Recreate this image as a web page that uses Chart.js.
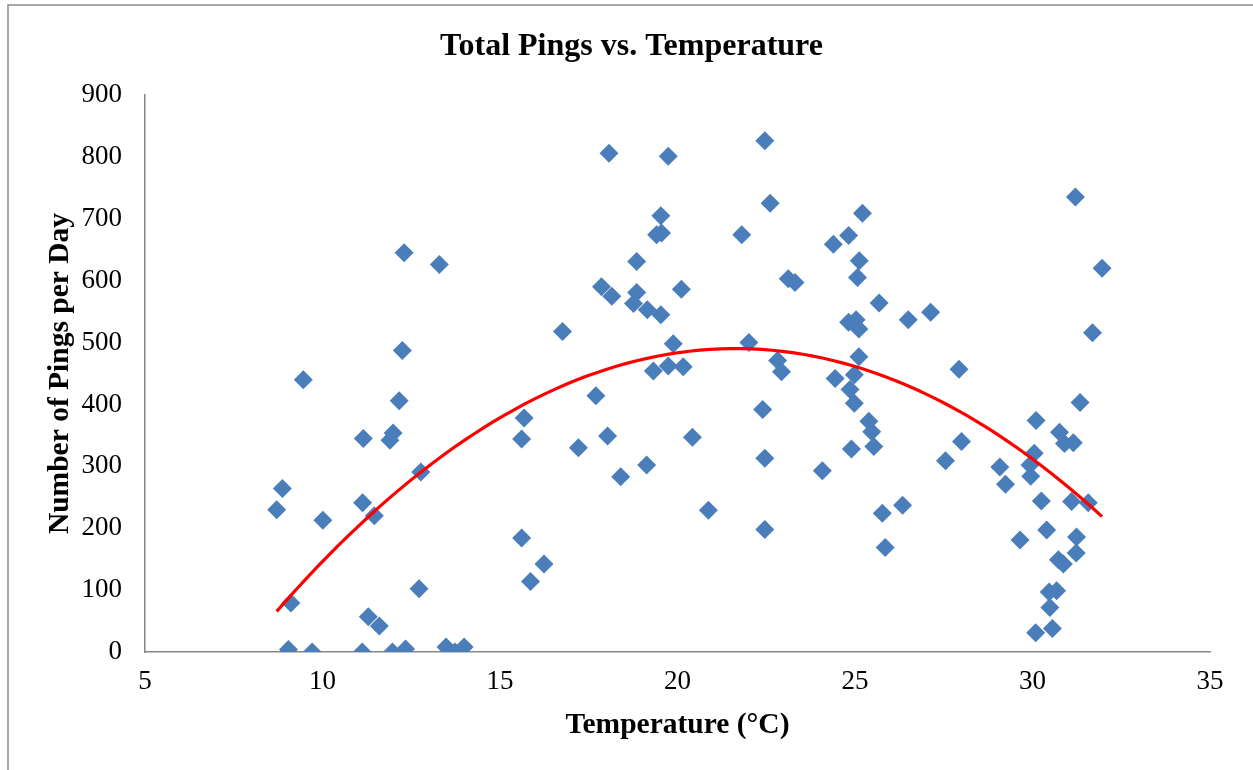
<!DOCTYPE html>
<html>
<head>
<meta charset="utf-8">
<script src="https://cdn.jsdelivr.net/npm/chart.js@4/dist/chart.umd.min.js"></script>
<style>
  html, body { margin: 0; padding: 0; background: #fff; }
  #wrap { width: 1253px; height: 770px; position: relative; }
</style>
</head>
<body>
<div id="wrap"><canvas id="pings"></canvas></div>
<script>
// temperature (°C) and pings per day
const temps = [
  8.71, 8.87, 9.04, 9.11, 9.46, 9.71, 10.01, 11.12, 11.15, 11.13,
  11.29, 11.46, 11.60, 11.90, 11.99, 11.97, 12.16, 12.25, 12.30, 12.34,
  12.72, 12.77, 13.29, 13.48, 13.73, 13.99, 15.61, 15.61, 15.68, 15.86,
  16.24, 16.76, 17.21, 17.70, 17.86, 18.03, 18.07, 18.15, 18.40, 18.76,
  18.85, 18.85, 19.13, 19.15, 19.32, 19.41, 19.53, 19.53, 19.55, 19.74,
  19.74, 19.88, 20.11, 20.16, 20.42, 20.87, 21.81, 22.01, 22.40, 22.46,
  22.46, 22.46, 22.61, 22.82, 22.93, 23.12, 23.31, 24.08, 24.39, 24.44,
  24.82, 24.82, 24.86, 24.90, 24.98, 24.98, 25.03, 25.07, 25.11, 25.11,
  25.12, 25.21, 25.39, 25.47, 25.53, 25.68, 25.77, 25.85, 26.34, 26.50,
  27.13, 27.55, 27.93, 28.00, 29.08, 29.24, 29.65, 29.93, 29.95, 30.05,
  30.09, 30.10, 30.25, 30.40, 30.47, 30.49, 30.56, 30.68, 30.73, 30.76,
  30.87, 30.90, 31.10, 31.15, 31.21, 31.23, 31.24, 31.34, 31.57, 31.69,
  31.96
];
const pings = [
  230, 264, 4, 79, 440, 0, 213, 0, 345, 241,
  57, 220, 42, 342, 354, 0, 406, 487, 645, 5,
  102, 291, 626, 8, 0, 8, 184, 344, 378, 114,
  142, 518, 330, 414, 590, 349, 806, 575, 283, 563,
  581, 631, 302, 553, 454, 674, 545, 705, 677, 801,
  462, 498, 586, 461, 347, 229, 674, 500, 392, 313,
  198, 826, 725, 471, 453, 603, 597, 293, 659, 442,
  673, 533, 424, 328, 448, 402, 537, 605, 522, 477,
  632, 709, 373, 356, 332, 564, 224, 169, 237, 537,
  549, 309, 457, 340, 299, 271, 181, 302, 284, 321,
  31, 374, 244, 197, 97, 72, 38, 99, 149, 355,
  142, 337, 243, 338, 735, 160, 186, 403, 241, 516,
  620
];
const xTicks = [5, 10, 15, 20, 25, 30, 35];
const yTicks = [0, 100, 200, 300, 400, 500, 600, 700, 800, 900];

const SERIF = "'Liberation Serif', 'Times New Roman', serif";

// order-2 least squares fit, like the Excel polynomial trendline
function polyFit2(xs, ys) {
  let s = [0, 0, 0, 0, 0], t = [0, 0, 0];
  for (let i = 0; i < xs.length; i++) {
    let p = 1;
    for (let k = 0; k < 5; k++) { s[k] += p; if (k < 3) t[k] += p * ys[i]; p *= xs[i]; }
  }
  const m = [[s[0], s[1], s[2], t[0]], [s[1], s[2], s[3], t[1]], [s[2], s[3], s[4], t[2]]];
  for (let c = 0; c < 3; c++) {
    for (let r = c + 1; r < 3; r++) {
      const f = m[r][c] / m[c][c];
      for (let k = c; k < 4; k++) m[r][k] -= f * m[c][k];
    }
  }
  const b = [0, 0, 0];
  for (let r = 2; r >= 0; r--) {
    let v = m[r][3];
    for (let k = r + 1; k < 3; k++) v -= m[r][k] * b[k];
    b[r] = v / m[r][r];
  }
  return b;
}

const coef = polyFit2(temps, pings);
const xMin = Math.min(...temps), xMax = Math.max(...temps);
const trend = [];
for (let i = 0; i <= 80; i++) {
  const x = xMin + (xMax - xMin) * i / 80;
  trend.push({ x: x, y: coef[0] + coef[1] * x + coef[2] * x * x });
}

// grey frame round the chart (only top and left show in the picture)
const framePlugin = {
  id: "frame",
  beforeDraw: (chart) => {
    const { ctx, width, height } = chart;
    ctx.save();
    ctx.fillStyle = "#ffffff";
    ctx.fillRect(0, 0, width, height);
    ctx.strokeStyle = "#8c8c8c";
    ctx.lineWidth = 1.5;
    ctx.beginPath();
    ctx.moveTo(8, height);
    ctx.lineTo(8, 5);
    ctx.lineTo(width, 5);
    ctx.stroke();
    ctx.restore();
  },
};

new Chart(document.getElementById("pings"), {
  type: "scatter",
  data: {
    datasets: [
      {
        label: "Pings",
        data: temps.map((t, i) => ({ x: t, y: pings[i] })),
        pointStyle: "rectRot",
        pointRadius: 9.5,
        pointBorderWidth: 0,
        backgroundColor: "#4a7ebb",
        borderColor: "#4a7ebb",
        order: 2,
      },
      {
        type: "line",
        label: "Trend",
        data: trend,
        borderColor: "#ff0000",
        borderWidth: 3.2,
        pointRadius: 0,
        tension: 0,
        fill: false,
        order: 1,
      },
    ],
  },
  plugins: [framePlugin],
  options: {
    responsive: true,
    maintainAspectRatio: false,
    animation: false,
    layout: { padding: { top: 0, right: 0, bottom: 0, left: 10 } },
    plugins: {
      legend: { display: false },
      tooltip: { enabled: false },
      title: {
        display: true,
        text: "Total Pings vs. Temperature",
        color: "#000",
        font: { family: SERIF, size: 32, weight: "bold" },
        padding: { top: 27.4, bottom: 29.2 },
      },
    },
    scales: {
      x: {
        type: "linear",
        min: 5,
        max: 35,
        afterBuildTicks: (s) => { s.ticks = xTicks.map((v) => ({ value: v })); },
        afterFit: (s) => { s.height = 118; },
        grid: { display: false, drawTicks: false },
        border: { display: true, color: "#868686", width: 1.5 },
        ticks: { color: "#000", padding: 14, font: { family: SERIF, size: 27 } },
        title: {
          display: true,
          text: "Temperature (°C)",
          color: "#000",
          font: { family: SERIF, size: 29.5, weight: "bold" },
          padding: { top: 0, bottom: 27 },
        },
      },
      y: {
        min: 0,
        max: 900,
        afterBuildTicks: (s) => { s.ticks = yTicks.map((v) => ({ value: v })); },
        afterFit: (s) => { s.width = 135; },
        grid: { display: false, drawTicks: false },
        border: { display: true, color: "#868686", width: 1.5 },
        ticks: { color: "#000", padding: 23, font: { family: SERIF, size: 27 } },
        title: {
          display: true,
          text: "Number of Pings per Day",
          color: "#000",
          font: { family: SERIF, size: 29.5, weight: "bold" },
          padding: { top: 32.3, bottom: 0 },
        },
      },
      // empty right-hand gutter so the plot ends at 35 like the reference
      gutter: {
        type: "linear",
        position: "right",
        afterFit: (s) => { s.width = 43; },
        grid: { display: false, drawTicks: false },
        border: { display: false },
        ticks: { display: false },
      },
    },
  },
});
</script>
</body>
</html>
